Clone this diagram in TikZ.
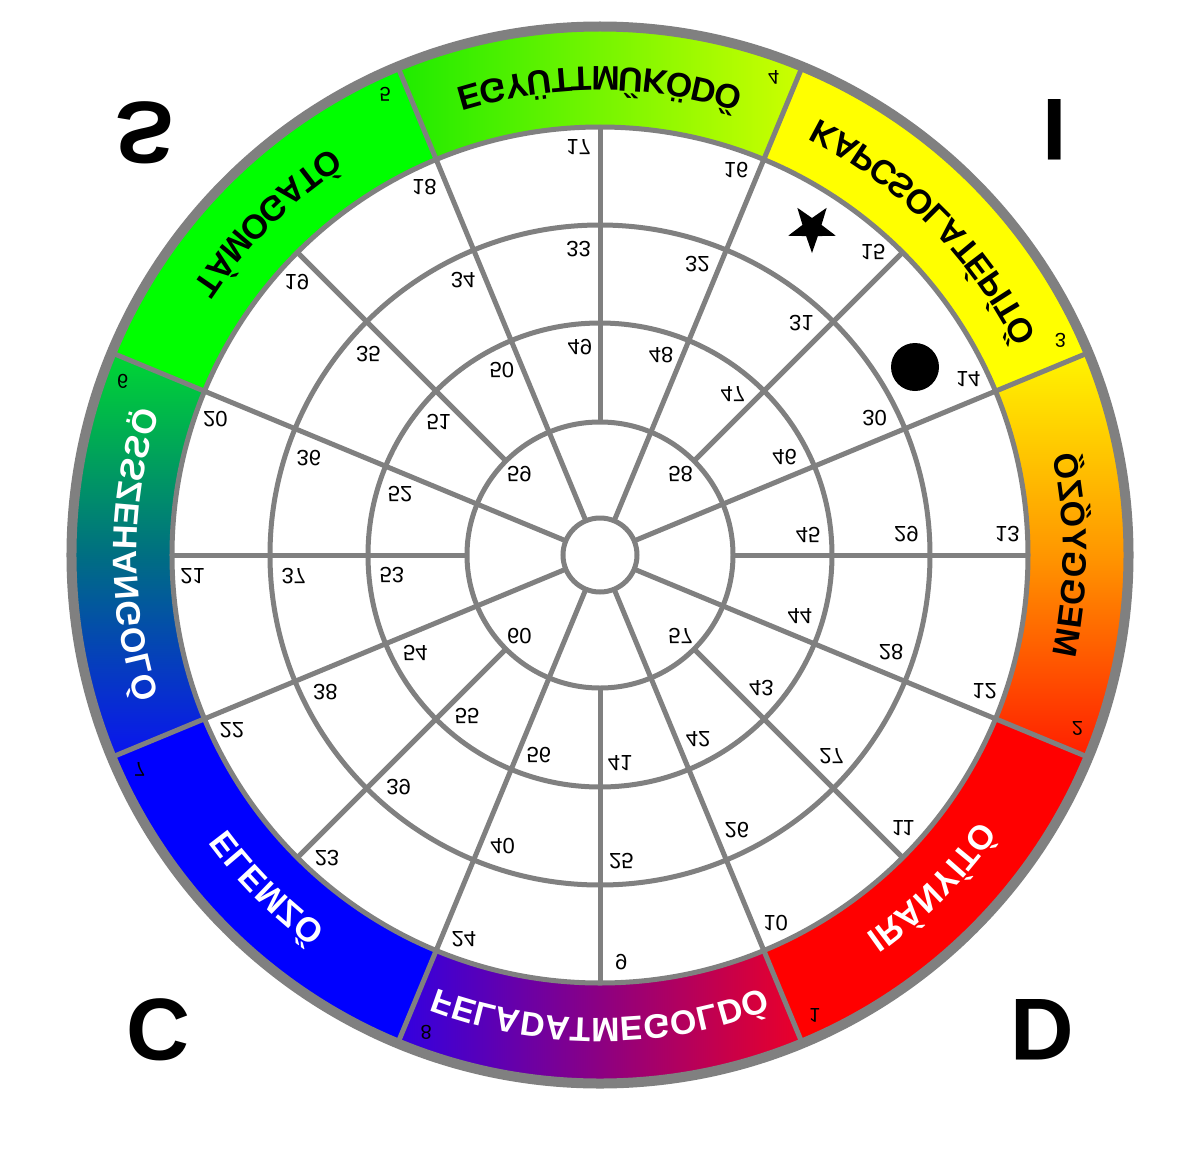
\documentclass[tikz,border=0pt]{standalone}
\usepackage{fontspec}
\setmainfont{Liberation Sans}
\usetikzlibrary{decorations.text}
\usetikzlibrary{shapes.geometric}

\definecolor{wheelgray}{RGB}{128,128,128}
\definecolor{segGreen}{RGB}{0,255,0}
\definecolor{segYellow}{RGB}{255,255,0}
\definecolor{segRed}{RGB}{255,0,0}
\definecolor{segBlue}{RGB}{0,0,255}

\newcommand\bandfont{\fontsize{34}{34}\selectfont\bfseries}

\tikzset {
  % the grey lines of the wheel
  wheel line/.style = {
    draw = wheelgray,
    line width = 5pt
  },
  % the whole chart is printed upside down
  flipped/.style = {
    yscale = -1,
    inner sep = 0
  },
  % number of a cell
  cellnum/.style = {
    flipped,
    font = \fontsize{22}{22}\selectfont
  },
  % number of a band segment
  segnum/.style = {
    flipped,
    font = \fontsize{20}{20}\selectfont
  },
  % big letters in the corners
  corner/.style = {
    flipped,
    font = \fontsize{88}{88}\selectfont\bfseries
  },
  % curved text in the colour band
  band text/.style = {
    decorate,
    decoration = {
      text along path,
      text align = center,
      mirror
    }
  },
  % one segment of the colour band
  sector/.style 2 args = {
    insert path = {
      (#1:428) arc[start angle=#1, end angle=#2, radius=428]
      -- (#2:528) arc[start angle=#2, end angle=#1, radius=528] -- cycle
    }
  }
}

\begin{document}
\begin{tikzpicture}[x=1pt, y=1pt]
  \fill[white] (-600,-613) rectangle (582,555);
  \useasboundingbox (-600,-613) rectangle (582,555);

  % colour band
  \fill[segGreen, sector={112.5}{157.5}];
  \shade[left color={rgb,255:red,30;green,235;blue,0},
    right color={rgb,255:red,205;green,255;blue,0}, sector={67.5}{112.5}];
  \fill[segYellow, sector={22.5}{67.5}];
  \shade[top color={rgb,255:red,255;green,245;blue,0},
    bottom color={rgb,255:red,255;green,30;blue,0},
    middle color={rgb,255:red,255;green,150;blue,0}, sector={-22.5}{22.5}];
  \fill[segRed, sector={-67.5}{-22.5}];
  \shade[left color={rgb,255:red,50;green,0;blue,225},
    right color={rgb,255:red,235;green,0;blue,40},
    middle color={rgb,255:red,140;green,0;blue,130}, sector={-112.5}{-67.5}];
  \fill[segBlue, sector={-157.5}{-112.5}];
  \shade[top color={rgb,255:red,0;green,215;blue,50},
    bottom color={rgb,255:red,10;green,20;blue,240},
    middle color={rgb,255:red,0;green,110;blue,130}, sector={157.5}{202.5}];

  % rings and spokes
  \foreach \r in {37,133,232,330,428}
    \draw[wheel line] (0,0) circle[radius=\r];
  \foreach \a in {22.5,67.5,...,337.5}
    \draw[wheel line] (\a:37) -- (\a:528);
  \foreach \a in {0,45,...,315}
    \draw[wheel line] (\a:133) -- (\a:428);
  \draw[draw=wheelgray, line width=10pt] (0,0) circle[radius=528.5];

  % band labels
  \path[band text, decoration={text={|\bandfont|TÁMOGATÓ}}]
    (157.5:488) arc[start angle=157.5, end angle=112.5, radius=488];
  \path[band text, decoration={text={|\bandfont|EGYÜTTMŰKÖDŐ}}]
    (112.5:488) arc[start angle=112.5, end angle=67.5, radius=488];
  \path[band text, decoration={text={|\bandfont|KAPCSOLATÉPÍTŐ}}]
    (67.5:488) arc[start angle=67.5, end angle=22.5, radius=488];
  \path[band text, decoration={text={|\bandfont|MEGGYŐZŐ}}]
    (-22.5:463) arc[start angle=-22.5, end angle=22.5, radius=463];
  \path[band text, decoration={text color=white, text={|\bandfont|IRÁNYÍTÓ}}]
    (-67.5:463) arc[start angle=-67.5, end angle=-22.5, radius=463];
  \path[band text, decoration={text color=white, text={|\bandfont|FELADATMEGOLDÓ}}]
    (-112.5:463) arc[start angle=-112.5, end angle=-67.5, radius=463];
  \path[band text, decoration={text color=white, text={|\bandfont|ELEMZŐ}}]
    (-157.5:463) arc[start angle=-157.5, end angle=-112.5, radius=463];
  \path[band text, decoration={text color=white, text={|\bandfont|ÖSSZEHANGOLÓ}}]
    (157.5:463) arc[start angle=157.5, end angle=202.5, radius=463];

  % numbers
  \foreach \n in {1,...,8}
    \node[segnum] (seg-\n) at ({-65+45*(\n-1)}:508) {\n};
  \foreach \k in {9,...,24}
    \node[cellnum] (cell-\k) at ({-87+22.5*(\k-9)}:408) {\k};
  \foreach \k in {25,...,40}
    \node[cellnum] (cell-\k) at ({-86+22.5*(\k-25)}:307) {\k};
  \foreach \k in {41,...,56}
    \node[cellnum] (cell-\k) at ({-84.5+22.5*(\k-41)}:209) {\k};
  \foreach \k/\a in {57/-45,58/45,59/135,60/225}
    \node[cellnum] (cell-\k) at (\a:114) {\k};

  % markers
  \node[star, star points=5, star point ratio=2.5, shape border rotate=180,
    fill=black, minimum size=50pt, inner sep=0] (star) at (212,327) {};
  \node[circle, fill=black, minimum size=48pt, inner sep=0] (dot) at (315,188) {};

  % corner letters
  \node[corner] (letter-S) at (-455,422) {S};
  \node[corner] (letter-I) at (455,425) {I};
  \node[corner] (letter-C) at (-442,-475) {C};
  \node[corner] (letter-D) at (442,-475) {D};
\end{tikzpicture}
\end{document}
